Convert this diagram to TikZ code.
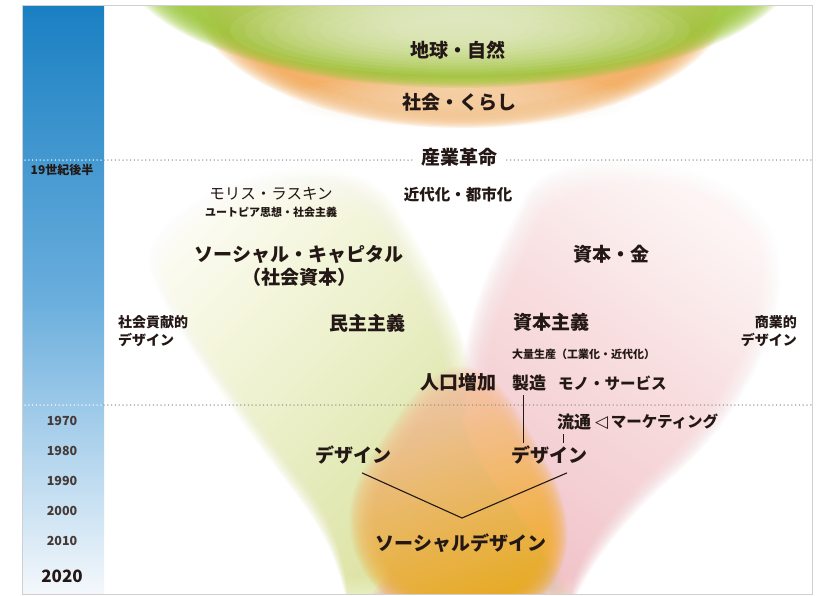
\documentclass[tikz,border=0pt]{standalone}
\usepackage{fontspec}
\setmainfont{Noto Sans CJK JP}
\newfontfamily\symf{DejaVu Sans}
\usetikzlibrary{calc}
\definecolor{ink}{HTML}{231815}
\definecolor{frameg}{HTML}{CFCFCF}
\definecolor{dotg}{HTML}{8F8F8F}
\definecolor{barTop}{HTML}{1A80C2}
\definecolor{barMid}{HTML}{6AAEDD}
\definecolor{barBot}{HTML}{F4F8FC}
\definecolor{lbPale}{HTML}{FDFCF2}
\definecolor{lbGreen}{HTML}{D6E184}
\definecolor{rbPale}{HTML}{FDF4F3}
\definecolor{rbPink}{HTML}{F0B4BC}
\definecolor{orTop}{HTML}{F5C3A5}
\definecolor{orMid}{HTML}{F0A063}
\definecolor{orBot}{HTML}{EFAA10}
\definecolor{grOut}{HTML}{9CC838}
\definecolor{grIn}{HTML}{F0F6DC}
\definecolor{grLight}{HTML}{F2F7E2}
\definecolor{bwOut}{HTML}{F3A650}
\definecolor{bwIn}{HTML}{FDE7CC}
\definecolor{bwLight}{HTML}{FCE6CC}
\def\lbandpath{(395,205) .. controls (440,280) and (485,360) .. (472,420) .. controls (480,480) and (560,540) .. (580,610) -- (350,615) .. controls (340,570) and (330,540) .. (300,500) .. controls (240,420) and (170,330) .. (150,270) .. controls (130,200) and (340,120) .. (395,205) -- cycle}
\def\rbandpath{(523,200) .. controls (545,135) and (772,145) .. (780,262) .. controls (786,330) and (740,420) .. (673,477) .. controls (630,515) and (590,560) .. (568,615) -- (360,615) .. controls (400,540) and (455,480) .. (458,420) .. controls (460,330) and (480,280) .. (523,200) -- cycle}
\def\orpath{(462,366) .. controls (500,366) and (522,420) .. (546,462) .. controls (576,515) and (592,602) .. (470,634) .. controls (345,610) and (333,520) .. (364,468) .. controls (394,420) and (425,366) .. (462,366) -- cycle}
\begin{document}
\begin{tikzpicture}[x=1pt,y=-1pt,
  lbl/.style={font=\bfseries\fontsize{19}{22}\selectfont, text=ink, inner sep=1pt},
  midb/.style={font=\bfseries\fontsize{15.5}{18}\selectfont, text=ink, inner sep=1pt},
  midr/.style={font=\fontsize{15.5}{18}\selectfont, text=ink, inner sep=1pt},
  mid17/.style={font=\bfseries\fontsize{17}{20}\selectfont, text=ink, inner sep=1pt},
  sml/.style={font=\bfseries\fontsize{11}{13}\selectfont, text=ink, inner sep=1pt},
  side/.style={font=\bfseries\fontsize{14}{18.5}\selectfont, text=ink, inner sep=1pt},
  yr/.style={font=\bfseries\fontsize{12.5}{14}\selectfont, text=ink!85},
  conn/.style={draw=ink, line width=1.1pt},
  graydots/.style={draw=dotg, line width=1.5pt, line cap=round, dash pattern=on 0pt off 3.8pt},
  whitedots/.style={draw=white, line width=1.5pt, line cap=round, dash pattern=on 0pt off 3.8pt}]
\useasboundingbox (0,0) rectangle (825,595);
\fill[white] (0,0) rectangle (825,595);
\begin{scope}
\clip (23,6) rectangle (812,594);
% left band (yellow-green)
\foreach \k in {0,...,21}{
  \pgfmathsetmacro\s{1-0.0085*\k}
  \shade[top color=lbPale, bottom color=lbGreen, shading angle=45, opacity=0.062, scale around={\s:(330,400)}] \lbandpath;
}
% right band (pink)
\foreach \k in {0,...,21}{
  \pgfmathsetmacro\s{1-0.0085*\k}
  \shade[top color=rbPale, bottom color=rbPink, shading angle=-35, opacity=0.062, scale around={\s:(600,400)}] \rbandpath;
}
% orange blob
\foreach \k in {0,...,19}{
  \pgfmathsetmacro\s{1-0.011*\k}
  \shade[top color=orTop, middle color=orMid, bottom color=orBot, shading angle=18, opacity=0.1, scale around={\s:(465,520)}] \orpath;
}
% top bowls
\foreach \k in {0,...,17}{
  \pgfmathsetmacro\s{1-0.007*\k}
  \shade[inner color=bwIn, outer color=bwOut, opacity=0.11, scale around={\s:(462,-10)}] (462,-10) ellipse (272 and 138);
}
\foreach \k in {0,...,9}{
  \fill[bwLight, opacity=0.08] (460,100) ellipse ({170-12*\k} and {28-2*\k});
}
\foreach \k in {0,...,17}{
  \pgfmathsetmacro\s{1-0.006*\k}
  \shade[inner color=grIn, outer color=grOut, opacity=0.12, scale around={\s:(460,-40)}] (460,-40) ellipse (338 and 128);
}
\foreach \k in {0,...,11}{
  \fill[grLight, opacity=0.08] (460,30) ellipse ({230-15*\k} and {45-3*\k});
}
% blue bar
\shade[top color=barTop, bottom color=barBot, middle color=barMid] (23,6) rectangle (104,594);
\end{scope}
\draw[frameg, line width=1pt] (22,5.5) rectangle (812.5,594.5);
% dotted lines
\coordinate (d1L) at (25,160);
\coordinate (d1M) at (104,160);
\coordinate (d1R) at (811,160);
\coordinate (d2L) at (25,405);
\coordinate (d2M) at (104,405);
\coordinate (d2R) at (811,405);
\draw[whitedots] (d1L) -- (d1M);
\draw[graydots] (d1M) -- (d1R);
\draw[whitedots] (d2L) -- (d2M);
\draw[graydots] (d2M) -- (d2R);
% texts
\node[lbl] (earth) at (458,50) {地球・自然};
\node[lbl] (life) at (459,102) {社会・くらし};
\node[lbl, fill=white, inner xsep=7pt] (ind) at (459,157) {産業革命};
\node[midr] (morris) at (271,194) {モリス・ラスキン};
\node[sml] (utopia) at (271,212) {ユートピア思想・社会主義};
\node[midb] (modern) at (458,195) {近代化・都市化};
\node[lbl] (sc) at (299,254) {ソーシャル・キャピタル};
\node[lbl] (scj) at (299,277) {（社会資本）};
\node[lbl] (cap) at (611,254) {資本・金};
\node[side, anchor=west, align=left] (soc) at (117,331) {社会貢献的\\デザイン};
\node[lbl] (demo) at (367,323) {民主主義};
\node[lbl] (capism) at (551,322) {資本主義};
\node[side, anchor=east, align=right] (com) at (798,331) {商業的\\デザイン};
\node[sml, anchor=west] (mass) at (511,354) {大量生産（工業化・近代化）};
\node[lbl] (pop) at (458,382) {人口増加};
\node[mid17, anchor=west] (mfg) at (511,383) {製造};
\node[midb, anchor=west] (goods) at (557,383) {モノ・サービス};
\node[mid17, anchor=west] (dist) at (556,422) {流通};
\node[midb, anchor=west] (mkt) at (594,422) {{\symf\fontsize{17}{18}\selectfont ◁}\,マーケティング};
\node[lbl] (dzL) at (353,455) {デザイン};
\node[lbl] (dzR) at (549,455) {デザイン};
\node[lbl] (sd) at (461,543) {ソーシャルデザイン};
\coordinate (vtx) at (462,518);
% years
\node[yr, font=\bfseries\fontsize{12}{14}\selectfont, text=ink] (c19) at (62,170) {19世紀後半};
\node[yr] (y70) at (62,421) {1970};
\node[yr] (y80) at (62,451) {1980};
\node[yr] (y90) at (62,481) {1990};
\node[yr] (y00) at (62,511) {2000};
\node[yr] (y10) at (62,541) {2010};
\node[yr, font=\bfseries\fontsize{17}{20}\selectfont, text=ink] (y20) at (62,576) {2020};
% connectors
\draw[conn] ([xshift=-5.5pt,yshift=-3pt]mfg.south) -- ([xshift=-5.5pt,yshift=2pt]mfg.south |- dzR.north);
\draw[conn] ([xshift=-11pt,yshift=-3pt]dist.south) -- ([xshift=-11pt,yshift=2pt]dist.south |- dzR.north);
\draw[conn] ([xshift=9pt,yshift=-7.5pt]dzL.south) -- (vtx) -- ([xshift=18pt,yshift=-7.5pt]dzR.south);
\end{tikzpicture}
\end{document}
